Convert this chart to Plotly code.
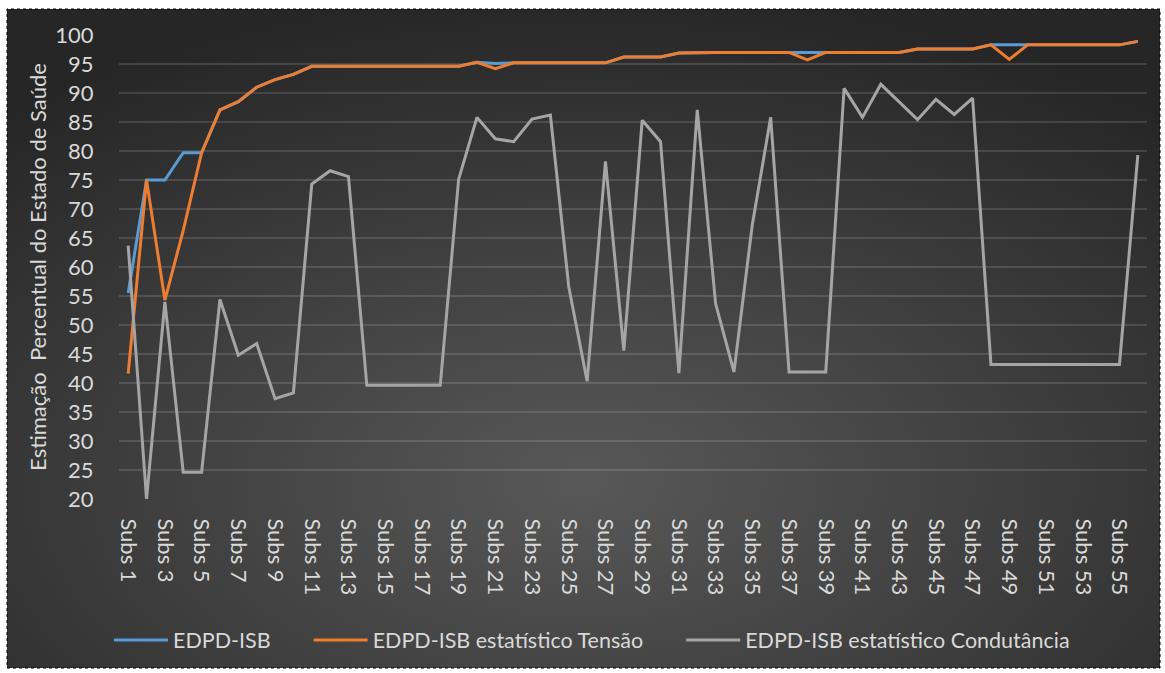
import base64
import plotly.graph_objects as go

# Substation labels along the category axis
categorias = [f"Subs {i}" for i in range(1, 57)]

# Health-state estimates (%) per substation
edpd_isb = [
    55.5, 75.0, 75.0, 79.7, 79.7, 87.1, 88.5, 91.0, 92.3, 93.2,
    94.6, 94.6, 94.6, 94.6, 94.6, 94.6, 94.6, 94.6, 94.6, 95.3,
    95.1, 95.2, 95.2, 95.2, 95.2, 95.2, 95.2, 96.2, 96.2, 96.2,
    96.9, 97.0, 97.0, 97.0, 97.0, 97.0, 97.0, 97.0, 97.0, 97.0,
    97.0, 97.0, 97.0, 97.6, 97.6, 97.6, 97.6, 98.3, 98.3, 98.3,
    98.3, 98.3, 98.3, 98.3, 98.3, 98.9,
]
edpd_tensao = [
    41.6, 75.0, 54.3, 66.3, 79.7, 87.1, 88.5, 91.0, 92.3, 93.2,
    94.6, 94.6, 94.6, 94.6, 94.6, 94.6, 94.6, 94.6, 94.6, 95.3,
    94.2, 95.2, 95.2, 95.2, 95.2, 95.2, 95.2, 96.2, 96.2, 96.2,
    96.9, 97.0, 97.0, 97.0, 97.0, 97.0, 97.0, 95.7, 97.0, 97.0,
    97.0, 97.0, 97.0, 97.6, 97.6, 97.6, 97.6, 98.3, 95.8, 98.3,
    98.3, 98.3, 98.3, 98.3, 98.3, 98.9,
]
edpd_condutancia = [
    63.7, 20.0, 54.0, 24.6, 24.6, 54.4, 44.8, 46.8, 37.3, 38.3,
    74.3, 76.6, 75.6, 39.6, 39.6, 39.6, 39.6, 39.6, 75.1, 85.8,
    82.1, 81.6, 85.5, 86.2, 56.6, 40.3, 78.2, 45.6, 85.3, 81.6,
    41.7, 87.1, 53.7, 41.9, 67.3, 85.8, 41.9, 41.9, 41.9, 90.8,
    85.8, 91.5, 88.5, 85.4, 88.9, 86.3, 89.1, 43.2, 43.2, 43.2,
    43.2, 43.2, 43.2, 43.2, 43.2, 79.3,
]

nomes = ["EDPD-ISB", "EDPD-ISB estatístico Tensão", "EDPD-ISB estatístico Condutância"]
cores = ["#5B9BD5", "#ED7D31", "#A5A5A5"]
series = [edpd_isb, edpd_tensao, edpd_condutancia]

y_ticks = list(range(20, 101, 5))

W, H = 1165, 673
L, R, T, B = 119, 18, 35, 174
plot_w = W - L - R
plot_h = H - T - B

FONT = "Lato"
TXT = "#D9D9D9"

fig = go.Figure()
pad = "\u00a0" * 6
for nome, cor, vals in zip(nomes, cores, series):
    fig.add_trace(go.Scatter(
        x=categorias, y=vals, mode="lines", name=nome + pad,
        line=dict(color=cor, width=3),
        hoverinfo="skip",
    ))

# Dark radial-gradient card behind the chart
card = (7, 9, 1160, 668)
cw, ch = card[2] - card[0], card[3] - card[1]
svg = f"""<svg xmlns='http://www.w3.org/2000/svg' width='{cw}' height='{ch}' viewBox='0 0 {cw} {ch}' preserveAspectRatio='none'>
<defs><radialGradient id='g' cx='0.5' cy='0.72' r='0.75' fx='0.5' fy='0.72'>
<stop offset='0' stop-color='#585858'/><stop offset='1' stop-color='#262626'/>
</radialGradient></defs>
<rect x='0' y='0' width='{cw}' height='{ch}' fill='url(#g)'/></svg>"""
src = "data:image/svg+xml;base64," + base64.b64encode(svg.encode()).decode()

def px_x(v):
    return (v - L) / plot_w

def px_y(v):
    return (H - B - v) / plot_h

fig.add_layout_image(
    source=src, xref="paper", yref="paper",
    x=px_x(card[0]), y=px_y(card[1]),
    sizex=cw / plot_w, sizey=ch / plot_h,
    xanchor="left", yanchor="top", sizing="stretch", layer="below",
)
fig.add_shape(
    type="rect", xref="paper", yref="paper",
    x0=px_x(card[0]), x1=px_x(card[2]), y0=px_y(card[3]), y1=px_y(card[1]),
    line=dict(color="#000000", width=1, dash="dot"), layer="below",
)

fig.update_layout(
    width=W, height=H,
    margin=dict(l=L, r=R, t=T, b=B),
    paper_bgcolor="#FFFFFF",
    plot_bgcolor="rgba(0,0,0,0)",
    font=dict(family=FONT, size=22, color=TXT),
    showlegend=True,
    legend=dict(
        orientation="h", x=px_x(109), y=px_y(640),
        xanchor="left", yanchor="middle",
        itemwidth=54,
        font=dict(family=FONT, size=21.5, color=TXT),
        bgcolor="rgba(0,0,0,0)",
    ),
    xaxis=dict(
        type="category",
        tickvals=categorias[::2], ticktext=categorias[::2],
        tickangle=90,
        tickfont=dict(family=FONT, size=22, color=TXT),
        showgrid=False, zeroline=False, showline=False,
        ticks="outside", ticklen=14, tickcolor="rgba(0,0,0,0)",
        range=[-0.5, len(categorias) - 0.5],
    ),
    yaxis=dict(
        range=[20, 100],
        tickvals=y_ticks,
        tickfont=dict(family=FONT, size=22, color=TXT),
        showgrid=True, gridcolor="rgba(255,255,255,0.13)", gridwidth=1.5,
        zeroline=False, showline=False,
        ticks="outside", ticklen=20, tickcolor="rgba(0,0,0,0)",
        title=dict(
            text="Estimação  Percentual do Estado de Saúde",
            font=dict(family=FONT, size=22, color=TXT),
            standoff=2,
        ),
    ),
)

fig.write_html("out.html")
